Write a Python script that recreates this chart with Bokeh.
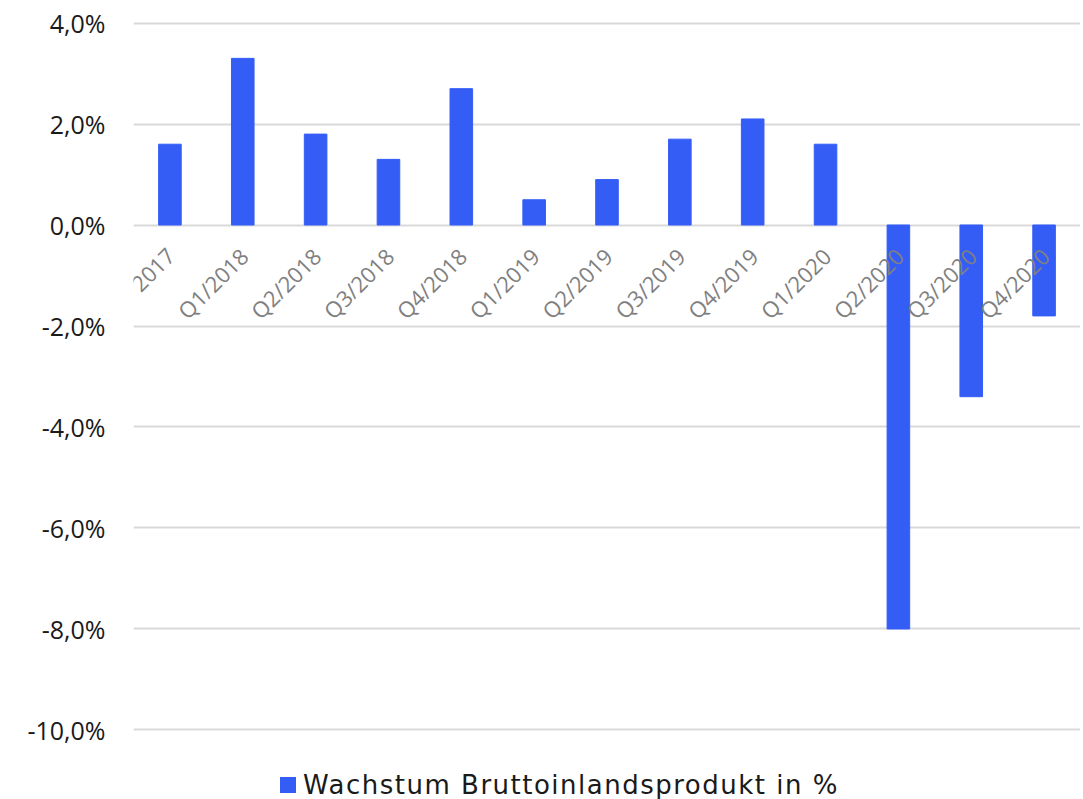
import math
from bokeh.plotting import figure
from bokeh.layouts import column
from bokeh.models import ColumnDataSource, FixedTicker, Div
from bokeh.core.properties import value
from bokeh.embed import file_html
from bokeh.resources import INLINE

categories = ["2017", "Q1/2018", "Q2/2018", "Q3/2018", "Q4/2018", "Q1/2019",
              "Q2/2019", "Q3/2019", "Q4/2019", "Q1/2020", "Q2/2020", "Q3/2020", "Q4/2020"]
growth = [1.6, 3.3, 1.8, 1.3, 2.7, 0.5, 0.9, 1.7, 2.1, 1.6, -8.0, -3.4, -1.8]
y_ticks = [-10, -8, -6, -4, -2, 0, 2, 4]
y_tick_labels = ["-10,0%", "-8,0%", "-6,0%", "-4,0%", "-2,0%", "0,0%", "2,0%", "4,0%"]
series_name = "Wachstum Bruttoinlandsprodukt in %"

FONT = "Open Sans"
LEGEND_FONT = "DejaVu Sans"
BLUE = "#345DF6"

src = ColumnDataSource(dict(cat=categories, val=growth, zero=[0] * len(categories)))

p = figure(x_range=categories, y_range=(-10.05, 4.05), width=1080, height=752,
           output_backend="svg", toolbar_location=None,
           min_border_left=133, min_border_right=0, min_border_top=20, min_border_bottom=20)
p.outline_line_color = None
p.background_fill_color = "white"
p.border_fill_color = "white"
p.x_range.range_padding = 0

bars = p.vbar(x="cat", top="val", width=0.31, source=src, color=BLUE)

# category labels
p.text(x="cat", y="zero", text="cat", source=src, angle=math.pi / 4,
       text_align="right", text_baseline="middle", x_offset=1, y_offset=27,
       text_font=value(FONT), text_font_size="22px", text_color="#808080")

p.xaxis.visible = False
p.xgrid.visible = False
p.ygrid.grid_line_color = "#d9d9d9"
p.ygrid.grid_line_width = 2
p.ygrid.ticker = FixedTicker(ticks=y_ticks)

ya = p.yaxis[0]
ya.ticker = FixedTicker(ticks=y_ticks)
ya.major_label_overrides = {t: l for t, l in zip(y_ticks, y_tick_labels)}
ya.axis_line_color = None
ya.major_tick_line_color = None
ya.minor_tick_line_color = None
ya.major_label_standoff = 22
ya.major_label_text_font = FONT
ya.major_label_text_font_size = "25px"
ya.major_label_text_color = "#1a1a1a"

legend_div = Div(
    text=(f'<div style="display:flex;align-items:center;">'
          f'<span style="display:inline-block;width:16px;height:16px;background:{BLUE};margin-right:7px;"></span>'
          f'<span style="font-family:\'{LEGEND_FONT}\';font-size:26px;letter-spacing:1.5px;'
          f'color:#1a1a1a;line-height:32px;">{series_name}</span>'
          f'</div>'),
    width=1080, height=47,
    styles={"padding-left": "275px", "padding-top": "12px", "box-sizing": "border-box"},
)

layout = column(p, legend_div, spacing=0)

open("out.html", "w").write(file_html(layout, INLINE))
